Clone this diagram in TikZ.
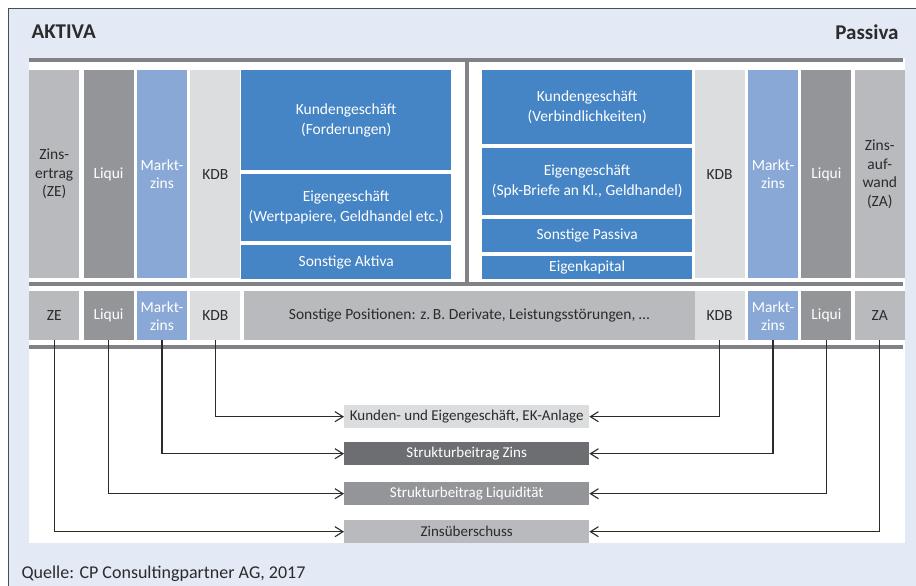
\documentclass[tikz,border=0pt]{standalone}
\usepackage{fontspec}
\setmainfont{Carlito}
\usepackage{xcolor}
\usetikzlibrary{positioning, arrows.meta}

\definecolor{bgblue}{HTML}{E3E9F5}
\definecolor{framegray}{HTML}{4D4D4F}
\definecolor{rulegray}{HTML}{808285}
\definecolor{bizblue}{HTML}{4584C5}
\definecolor{mzblue}{HTML}{89A8D6}
\definecolor{zegray}{HTML}{B9BABD}
\definecolor{liquigray}{HTML}{939598}
\definecolor{kdbgray}{HTML}{DCDDDF}
\definecolor{darkgray}{HTML}{6D6E71}
\definecolor{txtdark}{HTML}{2B2B2B}

\begin{document}
\begin{tikzpicture}[x=1pt, y=-1pt, node distance=3pt]
    % Styles
    \tikzstyle{col} = [rectangle, inner sep=0pt, minimum width=50pt, minimum height=208pt, align=center, text=txtdark, font=\fontsize{15.5}{18.5}\selectfont]
    \tikzstyle{mcol} = [col, minimum height=49pt, font=\fontsize{15.5}{18}\selectfont]
    \tikzstyle{biz} = [rectangle, inner sep=0pt, fill=bizblue, text=white, minimum width=210pt, align=center, font=\fontsize{15.5}{20}\selectfont]
    \tikzstyle{result} = [rectangle, inner sep=0pt, minimum width=245pt, minimum height=23pt, text=txtdark, font=\fontsize{15}{17}\selectfont]
    \tikzstyle{rule} = [draw=rulegray, line width=4pt]
    \tikzstyle{conn} = [draw=txtdark, line width=1.1pt, -{Straight Barb[length=8pt, width=10pt, line width=1.1pt]}]

    \useasboundingbox (0,0) rectangle (916,586);

    % --- FRAME ---
    \fill[bgblue] (8.5,9) rectangle (916,586);
    \draw[framegray, line width=1pt] (8.5,586) -- (8.5,9) -- (916,9);
    \fill[white] (29,58) rectangle (905,543);

    \node[anchor=west, text=txtdark, font=\fontsize{21}{22}\selectfont\bfseries] (aktiva) at (28,32) {AKTIVA};
    \node[anchor=east, text=txtdark, font=\fontsize{21}{22}\selectfont\bfseries] (passiva) at (902,32) {Passiva};

    % --- SEPARATORS ---
    \draw[rule] (29,60) -- (903,60);
    \draw[rule] (29,284) -- (903,284);
    \draw[rule] (29,347) -- (903,347);
    \draw[rule] (467,60) -- (467,284);

    % --- TOP ROW: AKTIVA ---
    \node[col, fill=zegray, anchor=north west] (zeT) at (29,70) {Zins-\\ertrag\\(ZE)};
    \node[col, fill=liquigray, text=white, right=4pt of zeT] (liquiT) {Liqui};
    \node[col, fill=mzblue, text=white, right=of liquiT] (mzT) {Markt-\\zins};
    \node[col, fill=kdbgray, right=of mzT] (kdbT) {KDB};

    \node[biz, minimum height=100pt, anchor=north west] (kundeA) at (241,70) {Kundengeschäft\\(Forderungen)};
    \node[biz, minimum height=67pt, below=of kundeA] (eigenA) {Eigengeschäft\\(Wertpapiere, Geldhandel etc.)};
    \node[biz, minimum height=34pt, below=4pt of eigenA] (sonstA) {Sonstige Aktiva};

    % --- TOP ROW: PASSIVA ---
    \node[biz, minimum height=74pt, anchor=north west] (kundeP) at (482,70) {Kundengeschäft\\(Verbindlichkeiten)};
    \node[biz, minimum height=67pt, below=of kundeP] (eigenP) {Eigengeschäft\\(Spk-Briefe an Kl., Geldhandel)};
    \node[biz, minimum height=33pt, below=4pt of eigenP] (sonstP) {Sonstige Passiva};
    \node[biz, minimum height=23pt, below=4pt of sonstP] (ekap) {Eigenkapital};

    \node[col, fill=zegray, anchor=north east] (zaT) at (905,70) {Zins-\\auf-\\wand\\(ZA)};
    \node[col, fill=liquigray, text=white, left=of zaT] (liquiTR) {Liqui};
    \node[col, fill=mzblue, text=white, left=of liquiTR] (mzTR) {Markt-\\zins};
    \node[col, fill=kdbgray, left=of mzTR] (kdbTR) {KDB};

    % --- MIDDLE ROW ---
    \node[mcol, fill=zegray, anchor=north west] (ze) at (29,291) {ZE};
    \node[mcol, fill=liquigray, text=white, right=4pt of ze] (liqui) {Liqui};
    \node[mcol, fill=mzblue, text=white, right=of liqui] (mz) {Markt-\\zins};
    \node[mcol, fill=kdbgray, right=of mz] (kdb) {KDB};
    \node[mcol, fill=zegray, minimum width=451pt, right=of kdb] (sonst) {Sonstige Positionen: z.\,B. Derivate, Leistungsstörungen, \dots};

    \node[mcol, fill=zegray, anchor=north east] (za) at (905,291) {ZA};
    \node[mcol, fill=liquigray, text=white, left=of za] (liquiR) {Liqui};
    \node[mcol, fill=mzblue, text=white, left=of liquiR] (mzR) {Markt-\\zins};
    \node[mcol, fill=kdbgray, left=of mzR] (kdbR) {KDB};

    % --- RESULTS ---
    \node[result, fill=kdbgray, anchor=north west] (resKDB) at (344,405) {Kunden- und Eigengeschäft, EK-Anlage};
    \node[result, fill=darkgray, text=white, anchor=north west] (resZins) at (344,442) {Strukturbeitrag Zins};
    \node[result, fill=liquigray, text=white, anchor=north west] (resLiqui) at (344,482) {Strukturbeitrag Liquidität};
    \node[result, fill=zegray, anchor=north west] (resZU) at (344,520) {Zinsüberschuss};

    % --- PATHS ---
    \path[conn] (kdb.south) |- (resKDB.west);
    \path[conn] (kdbR.south) |- (resKDB.east);
    \path[conn] (mz.south) |- (resZins.west);
    \path[conn] (mzR.south) |- (resZins.east);
    \path[conn] (liqui.south) |- (resLiqui.west);
    \path[conn] (liquiR.south) |- (resLiqui.east);
    \path[conn] (ze.south) |- (resZU.west);
    \path[conn] (za.south) |- (resZU.east);

    \node[anchor=west, text=txtdark, font=\fontsize{18}{20}\selectfont] (quelle) at (18,574) {Quelle: CP Consultingpartner AG, 2017};
\end{tikzpicture}
\end{document}
